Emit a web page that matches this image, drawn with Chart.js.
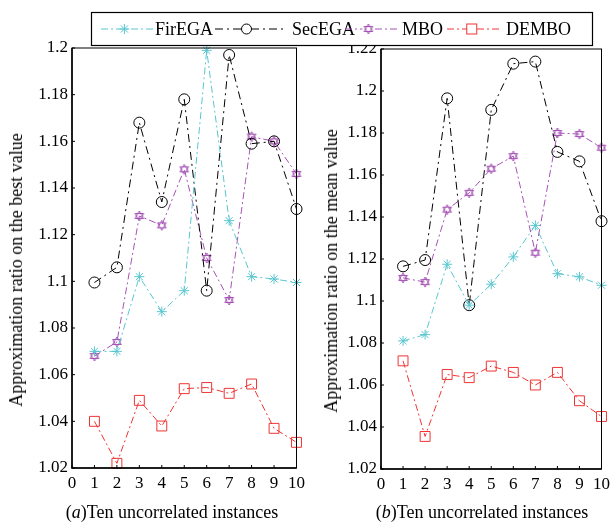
<!DOCTYPE html>
<html>
<head>
<meta charset="utf-8">
<script src="https://cdn.jsdelivr.net/npm/chart.js@4.4.1/dist/chart.umd.min.js"></script>
<style>
  body { margin: 0; background: #fff; }
  #wrap { position: relative; width: 615px; height: 524px; overflow: hidden; }
  canvas { position: absolute; }
  .cap { position: absolute; top: 502px; font: 18px "Liberation Serif", "Times New Roman", serif; color: #000; white-space: nowrap; transform: translateX(-50%); }
  .ytitle { position: absolute; font: 18px "Liberation Serif", "Times New Roman", serif; color: #000; white-space: nowrap;
            transform: translate(-50%, -50%) rotate(-90deg); line-height: 1; }
</style>
</head>
<body>
<div id="wrap">
  <canvas id="left" width="310" height="524" style="left:0;top:0"></canvas>
  <canvas id="right" width="305" height="524" style="left:310px;top:0"></canvas>
  <canvas id="legend" width="615" height="50" style="left:0;top:0"></canvas>
  <div class="ytitle" style="left:16px;top:270px">Approximation ratio on the best value</div>
  <div class="ytitle" style="left:331px;top:271px">Approximation ratio on the mean value</div>
  <div class="cap" style="left:172px">(<i>a</i>)Ten uncorrelated instances</div>
  <div class="cap" style="left:482px">(<i>b</i>)Ten uncorrelated instances</div>
</div>
<script>
// instances on the x axis
const instances = [1, 2, 3, 4, 5, 6, 7, 8, 9, 10];

// (a) ratio on the best value
const bestFirEGA = [1.070, 1.070, 1.102, 1.087, 1.096, 1.199, 1.126, 1.102, 1.101, 1.0995];
const bestSecEGA = [1.0995, 1.106, 1.168, 1.134, 1.178, 1.096, 1.197, 1.159, 1.160, 1.131];
const bestMBO = [1.068, 1.074, 1.128, 1.124, 1.148, 1.110, 1.092, 1.162, 1.160, 1.146];
const bestDEMBO = [1.040, 1.022, 1.049, 1.038, 1.054, 1.0545, 1.052, 1.056, 1.037, 1.031];

// (b) ratio on the mean value
const meanFirEGA = [1.081, 1.084, 1.1175, 1.098, 1.108, 1.121, 1.136, 1.113, 1.1115, 1.1075];
const meanSecEGA = [1.1165, 1.1195, 1.1965, 1.098, 1.191, 1.213, 1.214, 1.171, 1.1665, 1.138];
const meanMBO = [1.111, 1.109, 1.1435, 1.1515, 1.163, 1.169, 1.123, 1.180, 1.1795, 1.173];
const meanDEMBO = [1.0715, 1.0355, 1.065, 1.0635, 1.069, 1.066, 1.060, 1.066, 1.0525, 1.045];

const seriesNames = ['FirEGA', 'SecEGA', 'MBO', 'DEMBO'];
const xTicks = [0, 10, 1];        // min, max, step
const yTicksBest = [1.02, 1.2, 0.02];
const yTicksMean = [1.02, 1.22, 0.02];

const FONT = '"Liberation Serif", "Times New Roman", serif';
const colors = ['#5ac6d0', '#000000', '#a552b5', '#f03434'];
const dashes = [[7, 3, 2, 3], [8, 4, 2, 4], [7, 3, 2, 3], [7, 3, 2, 3]];

// six pointed star marker (two triangles)
function hexagram(color, size) {
  const c = document.createElement('canvas');
  c.width = size; c.height = size;
  const g = c.getContext('2d');
  const r = size / 2 - 1, cx = size / 2, cy = size / 2;
  g.strokeStyle = color;
  g.lineWidth = 1;
  for (let k = 0; k < 2; k++) {
    g.beginPath();
    for (let i = 0; i < 3; i++) {
      const a = -Math.PI / 2 + k * Math.PI + i * 2 * Math.PI / 3;
      const px = cx + r * Math.cos(a), py = cy + r * Math.sin(a);
      if (i === 0) g.moveTo(px, py); else g.lineTo(px, py);
    }
    g.closePath();
    g.stroke();
  }
  return c;
}

const hexImg = hexagram(colors[2], 12);
const pointStyles = ['star', 'circle', hexImg, 'rect'];
const pointRadius = [5, 5.5, 6, 7];

function toPoints(vals) {
  return vals.map((v, i) => ({ x: instances[i], y: v }));
}

function makeDataset(idx, vals) {
  return {
    label: seriesNames[idx],
    data: toPoints(vals),
    borderColor: colors[idx],
    backgroundColor: 'rgba(0,0,0,0)',
    borderWidth: 1,
    borderDash: dashes[idx],
    pointStyle: pointStyles[idx],
    pointRadius: pointRadius[idx],
    pointBorderColor: colors[idx],
    pointBackgroundColor: 'rgba(0,0,0,0)',
    pointBorderWidth: 1,
    tension: 0,
    clip: false
  };
}

// box around the plot and small inward ticks
const framePlugin = {
  id: 'frame',
  afterDraw(chart) {
    const ctx = chart.ctx, a = chart.chartArea;
    ctx.save();
    ctx.strokeStyle = '#000';
    ctx.lineWidth = 1;
    ctx.strokeRect(a.left, a.top, a.right - a.left, a.bottom - a.top);
    ctx.lineWidth = 1.5;
    ctx.beginPath();
    ctx.moveTo(a.left, a.top);
    ctx.lineTo(a.left, a.bottom);
    ctx.lineTo(a.right, a.bottom);
    ctx.stroke();
    ctx.lineWidth = 1;
    ctx.beginPath();
    chart.scales.y.ticks.forEach(t => {
      const py = chart.scales.y.getPixelForValue(t.value);
      ctx.moveTo(a.left, py); ctx.lineTo(a.left + 3, py);
    });
    chart.scales.x.ticks.forEach(t => {
      const px = chart.scales.x.getPixelForValue(t.value);
      ctx.moveTo(px, a.bottom); ctx.lineTo(px, a.bottom - 3);
    });
    ctx.stroke();
    ctx.restore();
  }
};

function makeChart(id, sets, yTicks, yWidth, xHeight, padTop, padRight) {
  return new Chart(document.getElementById(id), {
    type: 'line',
    data: { datasets: sets },
    plugins: [framePlugin],
    options: {
      responsive: false,
      animation: false,
      layout: { padding: { top: padTop, right: padRight, left: 0, bottom: 0 } },
      plugins: { legend: { display: false }, tooltip: { enabled: false } },
      scales: {
        x: {
          type: 'linear',
          min: xTicks[0], max: xTicks[1],
          grid: { display: false, drawTicks: false },
          border: { display: false },
          ticks: { stepSize: xTicks[2], color: '#000', padding: 5, maxRotation: 0,
                   font: { family: FONT, size: 17 } },
          afterFit(s) { s.height = xHeight; }
        },
        y: {
          min: yTicks[0], max: yTicks[1],
          grid: { display: false, drawTicks: false },
          border: { display: false },
          ticks: { stepSize: yTicks[2], color: '#000', padding: 4,
                   font: { family: FONT, size: 17 },
                   callback: v => String(Number(v.toFixed(2))) },
          afterFit(s) { s.width = yWidth; }
        }
      }
    }
  });
}

makeChart('left', [
  makeDataset(0, bestFirEGA), makeDataset(1, bestSecEGA),
  makeDataset(2, bestMBO), makeDataset(3, bestDEMBO)
], yTicksBest, 72, 56, 48, 8);

makeChart('right', [
  makeDataset(0, meanFirEGA), makeDataset(1, meanSecEGA),
  makeDataset(2, meanMBO), makeDataset(3, meanDEMBO)
], yTicksMean, 71, 55, 49, 9);

// legend box on top
(function drawLegend() {
  const g = document.getElementById('legend').getContext('2d');
  g.fillStyle = '#fff';
  g.fillRect(91, 12, 501, 33);
  g.strokeStyle = '#000';
  g.lineWidth = 1.2;
  g.strokeRect(91.5, 12.5, 501, 33);
  const items = [
    { x0: 101, x1: 153, tx: 155 },
    { x0: 215, x1: 285, tx: 292 },
    { x0: 345, x1: 397, tx: 402 },
    { x0: 447, x1: 502, tx: 506 }
  ];
  const cy = 29;
  g.font = '18px ' + FONT;
  g.textBaseline = 'middle';
  items.forEach((it, i) => {
    g.save();
    g.strokeStyle = colors[i];
    g.lineWidth = 1;
    g.setLineDash(dashes[i]);
    g.beginPath(); g.moveTo(it.x0, cy); g.lineTo(it.x1, cy); g.stroke();
    g.restore();
    const mx = it.x0 + (it.x1 - it.x0) * 0.45;
    g.save();
    g.strokeStyle = colors[i];
    g.lineWidth = 1;
    g.fillStyle = '#fff';
    const style = pointStyles[i];
    if (style === 'circle') {
      g.beginPath(); g.arc(mx, cy, 5, 0, Math.PI * 2); g.fill(); g.stroke();
    } else if (style === 'rect') {
      g.fillRect(mx - 5, cy - 5, 10, 10); g.strokeRect(mx - 5, cy - 5, 10, 10);
    } else if (style === 'star') {
      g.beginPath();
      for (let k = 0; k < 4; k++) {
        const a = k * Math.PI / 4;
        g.moveTo(mx - 5 * Math.cos(a), cy - 5 * Math.sin(a));
        g.lineTo(mx + 5 * Math.cos(a), cy + 5 * Math.sin(a));
      }
      g.stroke();
    } else {
      g.fillRect(mx - 6, cy - 6, 12, 12);
      g.drawImage(hexImg, mx - 6, cy - 6);
    }
    g.restore();
    g.fillStyle = '#000';
    g.fillText(seriesNames[i], it.tx, cy + 1);
  });
})();
</script>
</body>
</html>
